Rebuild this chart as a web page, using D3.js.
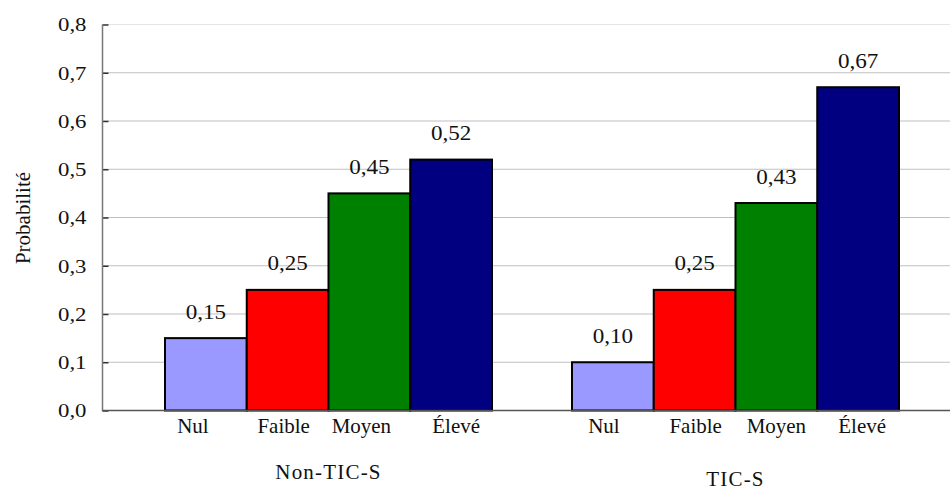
<!DOCTYPE html>
<html>
<head>
<meta charset="utf-8">
<script src="https://cdn.jsdelivr.net/npm/d3@7"></script>
<style>
  html, body { margin: 0; padding: 0; background: #fff; }
  svg { display: block; font-family: "Liberation Serif", "Times New Roman", serif; }
</style>
</head>
<body>
<svg id="chart" width="950" height="489"></svg>
<script>
// ---- data ----
const groups = ["Non-TIC-S", "TIC-S"];
const levels = ["Nul", "Faible", "Moyen", "Élevé"];
const nonTicValues = [0.15, 0.25, 0.45, 0.52];
const ticValues = [0.10, 0.25, 0.43, 0.67];
const yTicks = [0, 0.1, 0.2, 0.3, 0.4, 0.5, 0.6, 0.7, 0.8];
const yTitle = "Probabilité";

// ---- styling ----
const levelColors = ["#9999FF", "#FF0000", "#008000", "#000080"];
const subLabelNudge = [[-13, -4, -8, 5], [-9, 1, 0, 4]];

const svg = d3.select("#chart");
const W = 950, H = 489;
const plot = { left: 102.5, top: 24.5, bottom: 410.5 };

const fr = d3.formatLocale({ decimal: ",", thousands: " ", grouping: [3], currency: ["", "€"] });
const fmtTick = fr.format(".1f");
const fmtVal = fr.format(".2f");

const y = d3.scaleLinear().domain([0, 0.8]).range([plot.bottom, plot.top]);
const x0 = d3.scaleBand().domain(groups).range([plot.left, 961.5])
  .paddingInner(80 / 407).paddingOuter(62.5 / 407);
const x1 = d3.scaleBand().domain(levels).range([0, x0.bandwidth()]).padding(0);

const data = groups.map((g, gi) => ({
  group: g,
  values: (gi === 0 ? nonTicValues : ticValues).map((v, li) => ({ level: levels[li], li, gi, value: v }))
}));

// gridlines
svg.append("g").selectAll("line").data(yTicks.filter(t => t > 0)).join("line")
  .attr("x1", plot.left).attr("x2", W)
  .attr("y1", d => y(d)).attr("y2", d => y(d))
  .attr("stroke", d => d === 0.8 ? "#e6e6e6" : "#c0c0c0")
  .attr("stroke-width", 1.2);

// bars
const gGroups = svg.append("g").selectAll("g").data(data).join("g")
  .attr("transform", d => `translate(${x0(d.group)},0)`);

gGroups.selectAll("rect").data(d => d.values).join("rect")
  .attr("x", d => x1(d.level))
  .attr("y", d => y(d.value))
  .attr("width", x1.bandwidth())
  .attr("height", d => y(0) - y(d.value))
  .attr("fill", d => levelColors[d.li])
  .attr("stroke", "#000")
  .attr("stroke-width", 2);

// value labels
gGroups.selectAll("text.val").data(d => d.values).join("text")
  .attr("class", "val")
  .attr("transform", d => `translate(${x1(d.level) + x1.bandwidth() / 2},${y(d.value) - 19.5}) scale(1.1,1)`)
  .attr("text-anchor", "middle")
  .attr("font-size", 21)
  .attr("fill", "#111")
  .text(d => fmtVal(d.value));

// sub-category labels
gGroups.selectAll("text.sub").data(d => d.values).join("text")
  .attr("class", "sub")
  .attr("transform", d => `translate(${x1(d.level) + x1.bandwidth() / 2 + subLabelNudge[d.gi][d.li]},433) scale(1.05,1)`)
  .attr("text-anchor", "middle")
  .attr("font-size", 20)
  .attr("fill", "#111")
  .text(d => d.level);

// group labels (staggered)
svg.append("g").selectAll("text").data(groups).join("text")
  .attr("x", d => x0(d) + x0.bandwidth() / 2)
  .attr("y", (d, i) => i === 0 ? 478.5 : 485.5)
  .attr("text-anchor", "middle")
  .attr("font-size", 21)
  .attr("letter-spacing", 1.2)
  .attr("fill", "#111")
  .text(d => d);

// y axis
const yAxis = d3.axisLeft(y).tickValues(yTicks).tickFormat(fmtTick).tickSize(-6).tickPadding(0);
const ga = svg.append("g").attr("transform", `translate(${plot.left},0)`).call(yAxis);
ga.select(".domain").remove();
ga.selectAll(".tick line").attr("stroke", "#333").attr("stroke-width", 1.5);
ga.selectAll(".tick text")
  .attr("x", null).attr("dy", null)
  .attr("transform", "translate(-16,6.3) scale(1.2,1)")
  .attr("text-anchor", "end")
  .attr("font-family", "Liberation Serif, Times New Roman, serif")
  .attr("font-size", 19)
  .attr("fill", "#111");

// axis lines
svg.append("line")
  .attr("x1", plot.left).attr("x2", plot.left)
  .attr("y1", plot.top).attr("y2", plot.bottom + 0.75)
  .attr("stroke", "#777").attr("stroke-width", 1.5);
svg.append("line")
  .attr("x1", plot.left).attr("x2", W)
  .attr("y1", plot.bottom).attr("y2", plot.bottom)
  .attr("stroke", "#555").attr("stroke-width", 1.5);

// y axis title
svg.append("text")
  .attr("transform", "translate(30,218) rotate(-90)")
  .attr("text-anchor", "middle")
  .attr("font-size", 21)
  .attr("fill", "#111")
  .text(yTitle);
</script>
</body>
</html>
